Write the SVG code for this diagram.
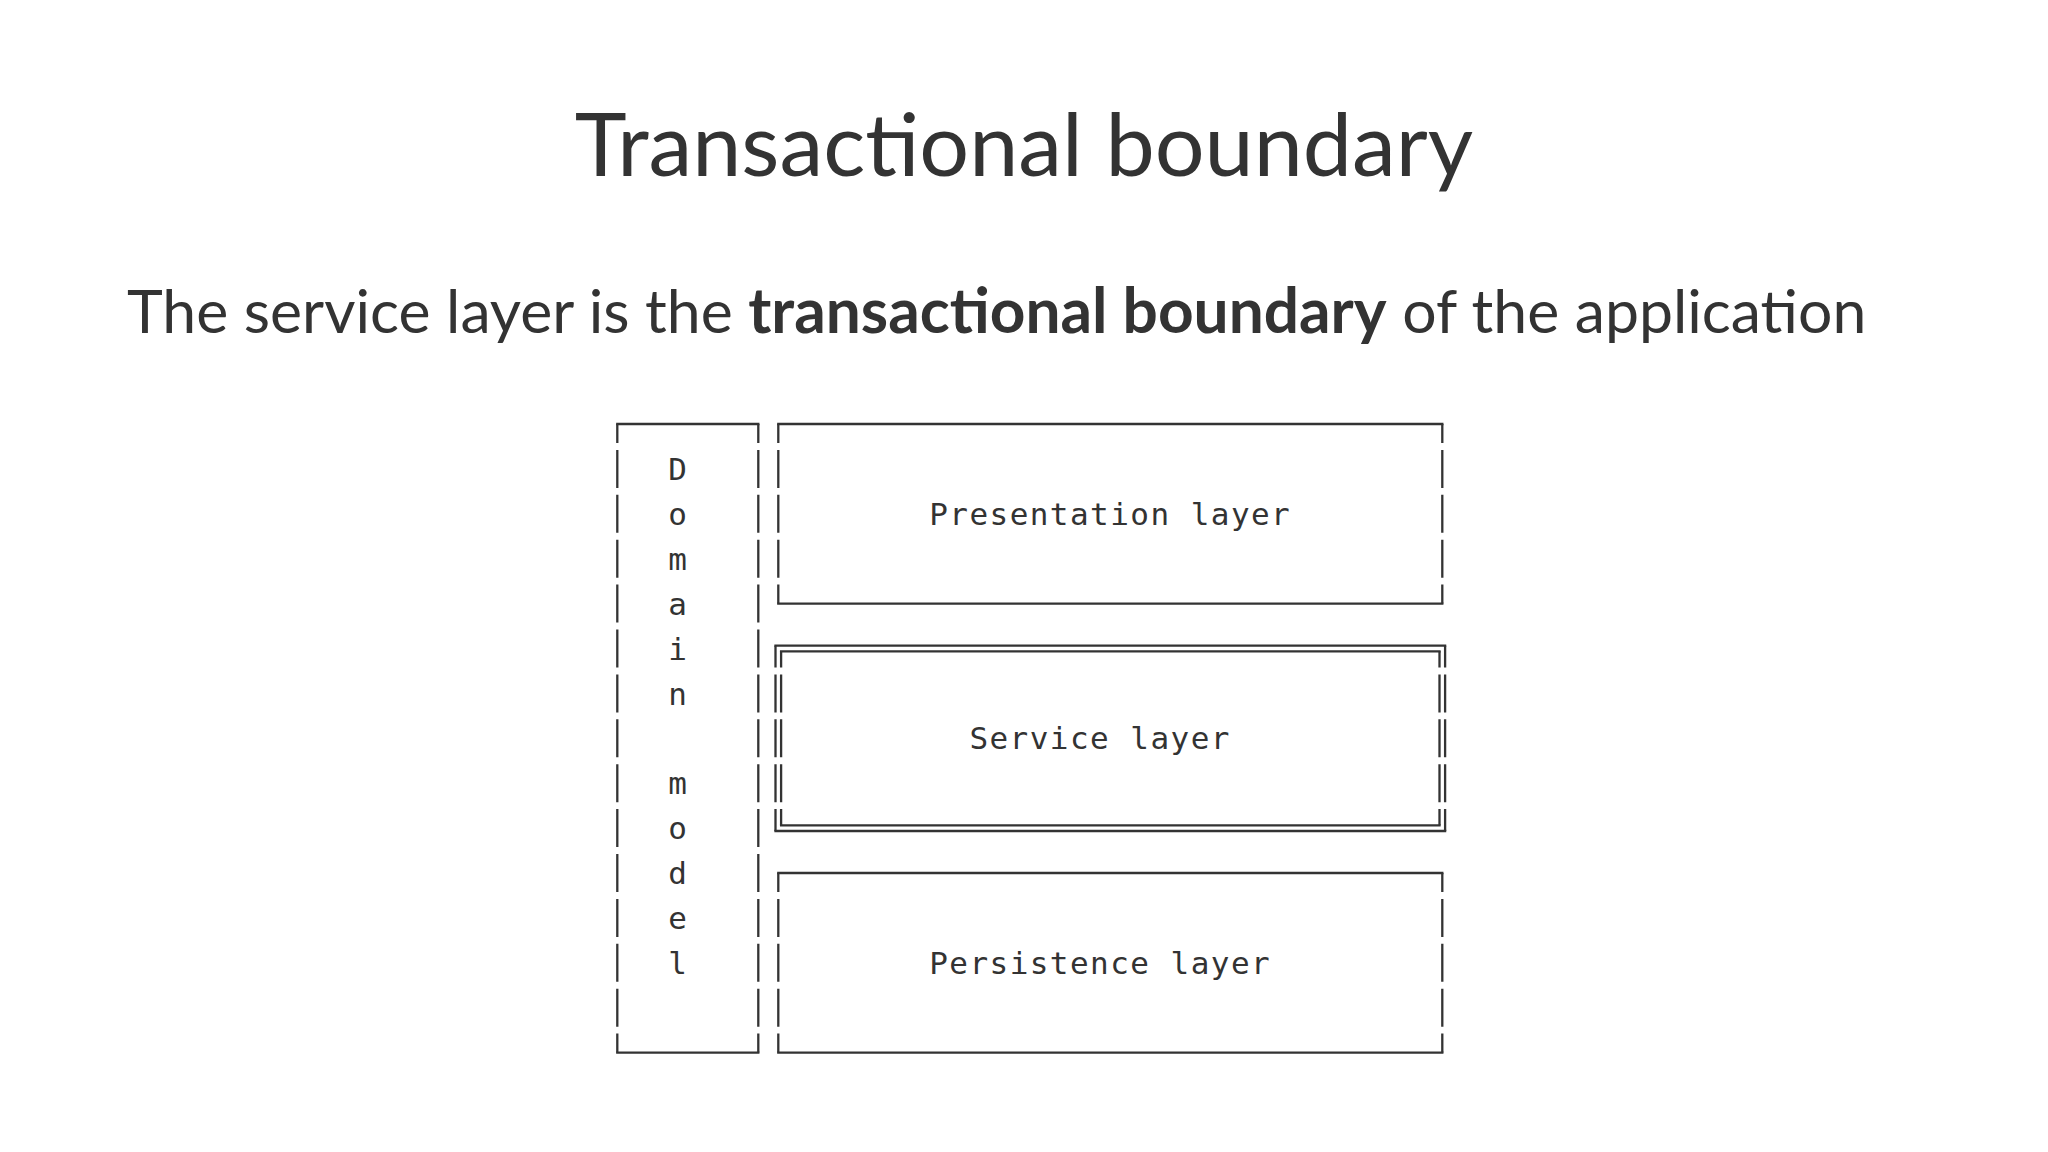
<svg xmlns="http://www.w3.org/2000/svg" width="2048" height="1152" viewBox="0 0 2048 1152">
<style>
.title{font-family:Lato,"Open Sans","Liberation Sans",sans-serif;font-size:88px;fill:#333}
.sub{font-family:Lato,"Open Sans","Liberation Sans",sans-serif;font-size:60.7px;fill:#333}
.mono{font-family:"DejaVu Sans Mono","Liberation Mono",monospace;font-size:31px;fill:#333}
.lbl{letter-spacing:1.45px}
.h{stroke:#333;stroke-width:2.3;fill:none;stroke-linecap:square}
.v{stroke:#333;stroke-width:2.3;fill:none;stroke-linecap:butt;stroke-dasharray:38 6.9;stroke-dashoffset:19}
</style>
<rect width="2048" height="1152" fill="#fff"/>
<text class="title" x="1024" y="176" text-anchor="middle">Transactional boundary</text>
<text class="sub" x="127" y="333">The service layer is the <tspan font-weight="bold" font-size="62.2px">transactional boundary</tspan> of the application</text>

<g id="domain-model">
<path class="h" d="M617.3 424 H758.3 M617.3 1052.6 H758.3"/>
<path class="v" d="M617.3 424 V1052.6 M758.3 424 V1052.6"/>
<g class="mono" text-anchor="middle">
<text x="677.7" y="480">D</text>
<text x="677.7" y="524.9">o</text>
<text x="677.7" y="569.8">m</text>
<text x="677.7" y="614.7">a</text>
<text x="677.7" y="659.6">i</text>
<text x="677.7" y="704.5">n</text>
<text x="677.7" y="794.3">m</text>
<text x="677.7" y="839.2">o</text>
<text x="677.7" y="884.1">d</text>
<text x="677.7" y="929">e</text>
<text x="677.7" y="973.9">l</text>
</g>
</g>

<g id="presentation-layer">
<path class="h" d="M778.3 424 H1442.3 M778.3 603.6 H1442.3"/>
<path class="v" d="M778.3 424 V603.6 M1442.3 424 V603.6"/>
<text class="mono lbl" x="929.2" y="524.9">Presentation layer</text>
</g>

<g id="service-layer">
<path class="h" d="M775.5 645.7 H1445.1 M775.5 831 H1445.1 M781.1 651.3 H1439.5 M781.1 825.3 H1439.5"/>
<path class="v" style="stroke-dashoffset:16.2" d="M775.5 645.7 V831 M1445.1 645.7 V831"/>
<path class="v" style="stroke-dashoffset:21.8" d="M781.1 651.3 V825.3 M1439.5 651.3 V825.3"/>
<text class="mono lbl" x="969.4" y="749.4">Service layer</text>
</g>

<g id="persistence-layer">
<path class="h" d="M778.3 873 H1442.3 M778.3 1052.6 H1442.3"/>
<path class="v" d="M778.3 873 V1052.6 M1442.3 873 V1052.6"/>
<text class="mono lbl" x="929.2" y="973.9">Persistence layer</text>
</g>

<g id="connectors"></g>
</svg>
